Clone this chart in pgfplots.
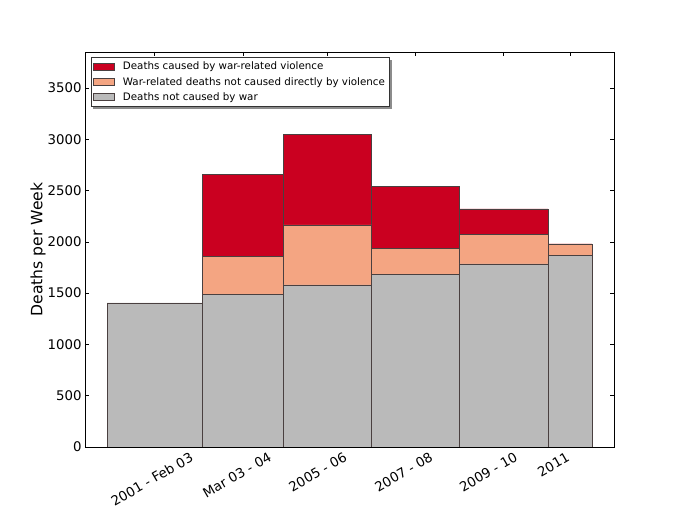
\documentclass[border=0pt]{standalone}
\usepackage{pgfplots}
\pgfplotsset{compat=1.18}
\usepackage{pgfplotstable}
\usepackage{fontspec}
\setmainfont{DejaVu Sans}
\usetikzlibrary{backgrounds}
\definecolor{cred}{HTML}{CA0020}
\definecolor{corange}{HTML}{F4A582}
\definecolor{cgray}{HTML}{BABABA}
\definecolor{edge}{HTML}{4A4040}
\pgfplotsset{/pgfplots/mylegend/.style={legend image code/.code={\draw[##1] (0bp,-3.5bp) rectangle (21bp,3.5bp);}}}
\pgfplotstableread{
x       gray  orange  red
2001    1405  0       0
2003.16 1490  1855    2660
2005    1580  2165    3050
2007    1680  1935    2540
2009    1785  2070    2320
2011    1865  1980    1980
2012    1865  1980    1980
}\deaths
\begin{document}
\begin{tikzpicture}
\useasboundingbox (0,0) rectangle (683bp,527bp);
\begin{axis}[
  at={(85bp,80bp)}, anchor=south west,
  scale only axis, width=529bp, height=395bp,
  xmin=2000.5, xmax=2012.5, ymin=0, ymax=3850,
  axis line style={black, line width=0.8bp},
  tick pos=both, tick align=inside,
  major tick length=4bp,
  tick style={black, line width=0.6bp},
  xtick={2002.08,2004.08,2006,2008,2010,2011.5},
  xticklabels={},
  extra x ticks={2002.89,2004.67,2006.38,2008.33,2010.25,2011.43},
  extra x tick labels={2001 - Feb 03,Mar 03 - 04,2005 - 06,2007 - 08,2009 - 10,2011},
  extra x tick style={major tick length=0pt, xticklabel style={rotate=30, anchor=north east}},
  ytick={0,500,...,3500},
  /pgf/number format/assume math mode=true,
  scaled ticks=false,
  yticklabel style={/pgf/number format/1000 sep={}},
  tick label style={font=\fontsize{13.3bp}{15bp}\selectfont},
  every axis y label/.style={at={(axis description cs:-0.0888,0.5)}, rotate=90, anchor=center, font=\fontsize{15.6bp}{18bp}\selectfont},
  ylabel={Deaths per Week},
  legend cell align=left,
  legend style={at={(axis description cs:0.0105,0.9873)}, anchor=north west,
    name=leg,
    draw=black!80, fill=white, line width=0.6bp,
    font=\fontsize{10.3bp}{12bp}\selectfont,
    inner xsep=2.5bp, inner ysep=2.5bp,
    row sep=2.1bp,
    /tikz/every odd column/.append style={column sep=6bp}},
]
\addplot[ybar interval, fill=cred, draw=edge, line width=0.6bp, mylegend]
  table[x=x, y=red] {\deaths};
\addlegendentry{Deaths caused by war-related violence}
\addplot[ybar interval, fill=corange, draw=edge, line width=0.6bp, mylegend]
  table[x=x, y=orange] {\deaths};
\addlegendentry{War-related deaths not caused directly by violence}
\addplot[ybar interval, fill=cgray, draw=edge, line width=0.6bp, mylegend]
  table[x=x, y=gray] {\deaths};
\addlegendentry{Deaths not caused by war}
\end{axis}
\begin{scope}[on background layer]
\fill[black, opacity=0.45] ([xshift=2.5bp,yshift=-2.5bp]leg.south west) rectangle ([xshift=2.5bp,yshift=-2.5bp]leg.north east);
\end{scope}
\end{tikzpicture}
\end{document}
